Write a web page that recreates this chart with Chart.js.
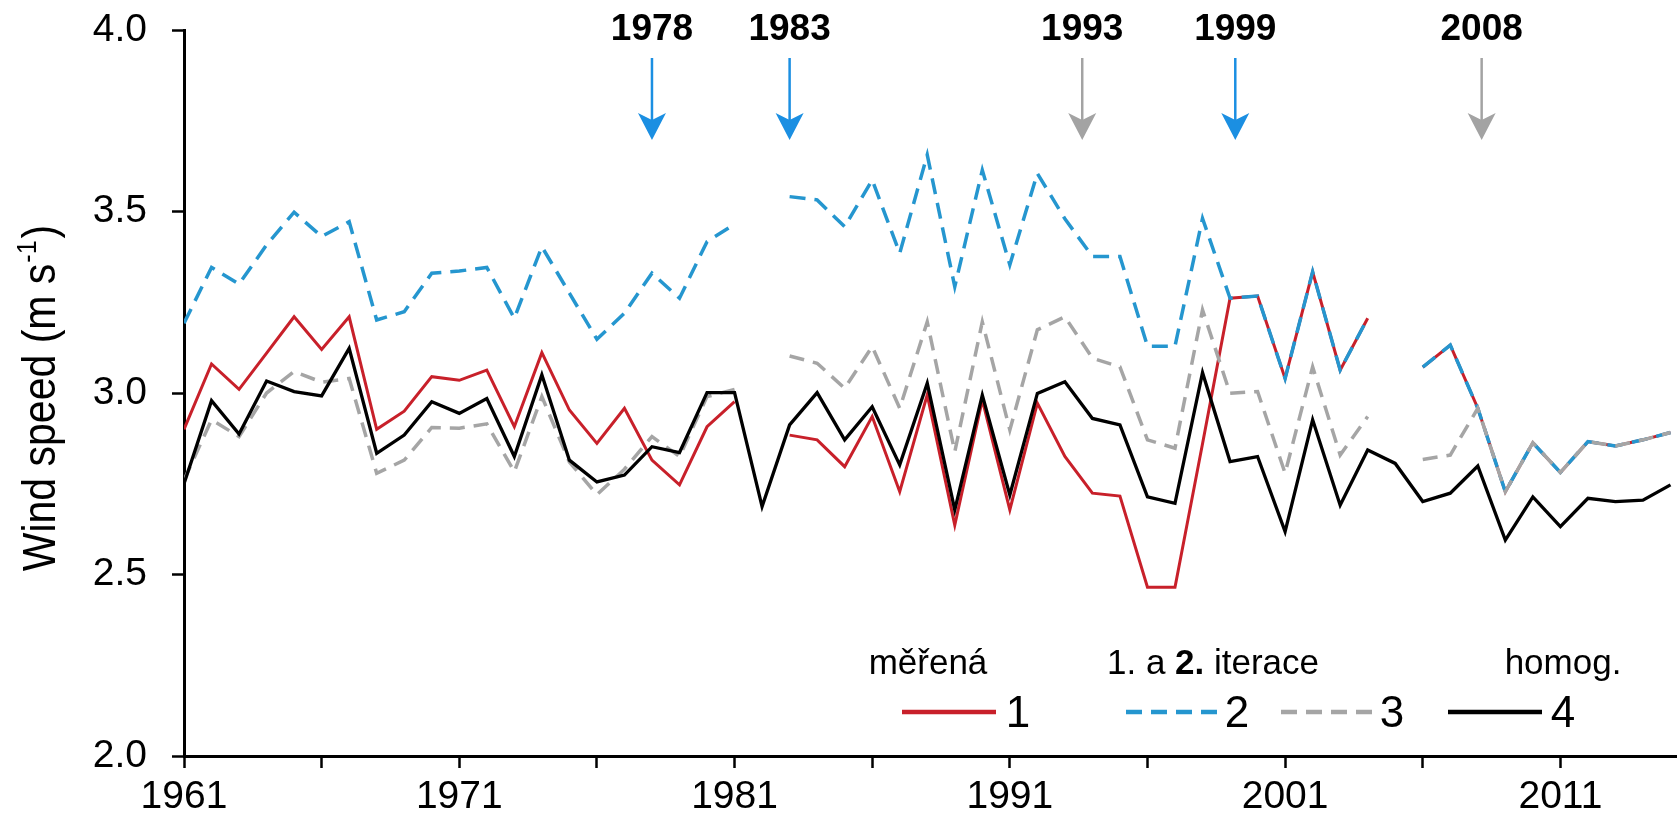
<!DOCTYPE html>
<html>
<head>
<meta charset="utf-8">
<script src="https://cdn.jsdelivr.net/npm/chart.js@4.4.1/dist/chart.umd.min.js"></script>
<style>
  html, body { margin: 0; padding: 0; background: #ffffff; overflow: hidden; }
  #wrap { width: 1679px; height: 829px; position: relative; }
</style>
</head>
<body>
<div id="wrap"><canvas id="c" width="1679" height="829"></canvas></div>
<script>
// Annual mean wind speed, 1961–2015
const years = [1961,1962,1963,1964,1965,1966,1967,1968,1969,1970,
               1971,1972,1973,1974,1975,1976,1977,1978,1979,1980,
               1981,1982,1983,1984,1985,1986,1987,1988,1989,1990,
               1991,1992,1993,1994,1995,1996,1997,1998,1999,2000,
               2001,2002,2003,2004,2005,2006,2007,2008,2009,2010,
               2011,2012,2013,2014,2015];

// 1 – measured series
const measured = [2.90,3.08,3.01,3.11,3.21,3.12,3.21,2.90,2.95,3.045,
                  3.035,3.063,2.907,3.111,2.953,2.861,2.958,2.815,2.747,2.907,
                  2.976,null,2.884,2.871,2.797,2.935,2.728,2.995,2.636,2.981,
                  2.678,2.972,2.825,2.724,2.716,2.465,2.465,2.86,3.261,3.267,
                  3.040,3.334,3.063,3.206,null,3.071,3.132,2.958,2.728,2.863,
                  2.781,2.866,2.854,2.871,2.891];

// 2 – first iteration
const iteration1 = [3.192,3.346,3.300,3.408,3.498,3.431,3.472,3.201,3.224,3.33,
                    3.336,3.346,3.206,3.403,3.275,3.148,3.22,3.33,3.261,3.417,
                    3.465,null,3.541,3.532,3.458,3.587,3.385,3.656,3.293,3.614,
                    3.353,3.605,3.48,3.376,3.376,3.129,3.129,3.481,3.261,3.267,
                    3.040,3.334,3.063,3.206,null,3.071,3.132,2.958,2.728,2.863,
                    2.781,2.866,2.854,2.871,2.891];

// 3 – second iteration
const iteration2 = [2.76,2.926,2.88,3.00,3.059,3.03,3.04,2.779,2.815,2.905,
                    2.903,2.915,2.783,2.99,2.81,2.72,2.79,2.88,2.825,2.99,
                    3.01,null,3.102,3.082,3.013,3.128,2.958,3.196,2.838,3.196,
                    2.898,3.174,3.210,3.096,3.072,2.871,2.848,3.229,2.999,3.004,
                    2.779,3.072,2.829,2.935,null,2.817,2.829,2.958,2.728,2.863,
                    2.781,2.866,2.854,2.871,2.891];

// 4 – homogenized series
const homogenized = [2.75,2.979,2.887,3.033,3.004,2.992,3.123,2.834,2.884,2.976,
                     2.944,2.985,2.825,3.050,2.815,2.755,2.774,2.852,2.836,3.001,
                     3.001,2.687,2.912,3.001,2.871,2.962,2.802,3.027,2.678,2.994,
                     2.719,2.999,3.031,2.930,2.912,2.714,2.696,3.056,2.811,2.825,
                     2.618,2.926,2.691,2.843,2.806,2.701,2.724,2.799,2.595,2.714,
                     2.632,2.710,2.701,2.705,2.747];

const xTickYears = [1961,1966,1971,1976,1981,1986,1991,1996,2001,2006,2011];
const xLabelYears = [1961,1971,1981,1991,2001,2011];
const yTickValues = [2.0,2.5,3.0,3.5,4.0];

// detected break points
const breakLabels = ['1978','1983','1993','1999','2008'];
const breakYears  = [1978,1983,1993.63,1999.19,2008.14];
const breakKinds  = ['blue','blue','gray','blue','gray'];

const FONT = '"Liberation Sans", Arial, Helvetica, sans-serif';
const RED = '#c8202a', BLUE = '#2596cf', GRAY = '#a5a5a5', BLACK = '#000000';
const ARROW = { blue: '#1b8fe2', gray: '#a3a3a3' };

const toPoints = arr => years.map((yr, i) => ({ x: yr, y: arr[i] }));

const overlay = {
  id: 'overlay',
  afterDraw(chart) {
    const ctx = chart.ctx;
    const xs = chart.scales.x;
    const ys = chart.scales.y;

    // y axis title with superscript
    ctx.save();
    ctx.translate(55, (ys.top + ys.bottom) / 2 + 5);
    ctx.scale(1.12, 1);
    ctx.rotate(-Math.PI / 2);
    ctx.fillStyle = '#000';
    ctx.textBaseline = 'alphabetic';
    const big = '41px ' + FONT, small = '25px ' + FONT;
    ctx.font = big;
    const a = 'Wind speed (m s', b = ')';
    const wa = ctx.measureText(a).width, wb = ctx.measureText(b).width;
    ctx.font = small;
    const sup = '-1';
    const ws = ctx.measureText(sup).width;
    let x0 = -(wa + ws + wb + 3) / 2;
    ctx.font = big; ctx.fillText(a, x0, 0); x0 += wa;
    ctx.font = small; ctx.fillText(sup, x0 + 1, -17); x0 += ws + 3;
    ctx.font = big; ctx.fillText(b, x0, 0);
    ctx.restore();

    // break-point arrows and labels
    ctx.save();
    breakLabels.forEach((lab, i) => {
      const x = xs.getPixelForValue(breakYears[i]);
      const col = ARROW[breakKinds[i]];
      ctx.fillStyle = '#000';
      ctx.font = 'bold 37px ' + FONT;
      ctx.textAlign = 'center';
      ctx.textBaseline = 'alphabetic';
      ctx.fillText(lab, x, 40);
      ctx.strokeStyle = col;
      ctx.fillStyle = col;
      ctx.lineWidth = 2.5;
      ctx.beginPath();
      ctx.moveTo(x, 58);
      ctx.lineTo(x, 122);
      ctx.stroke();
      ctx.beginPath();
      ctx.moveTo(x, 140);
      ctx.lineTo(x - 14, 113);
      ctx.lineTo(x, 120);
      ctx.lineTo(x + 14, 113);
      ctx.closePath();
      ctx.fill();
    });
    ctx.restore();

    // legend
    ctx.save();
    ctx.fillStyle = '#000';
    ctx.textBaseline = 'middle';
    ctx.textAlign = 'center';
    const hFont = '35px ' + FONT, hBold = 'bold 35px ' + FONT;
    ctx.font = hFont;
    ctx.fillText('měřená', 928, 664);
    ctx.fillText('homog.', 1563, 664);
    // mixed-weight heading
    const p1 = '1. a ', p2 = '2.', p3 = ' iterace';
    ctx.font = hFont; const w1 = ctx.measureText(p1).width, w3 = ctx.measureText(p3).width;
    ctx.font = hBold; const w2 = ctx.measureText(p2).width;
    let hx = 1213 - (w1 + w2 + w3) / 2;
    ctx.textAlign = 'left';
    ctx.font = hFont; ctx.fillText(p1, hx, 664); hx += w1;
    ctx.font = hBold; ctx.fillText(p2, hx, 664); hx += w2;
    ctx.font = hFont; ctx.fillText(p3, hx, 664);

    const items = [
      { x0: 902, x1: 996, col: RED, dash: [], lab: '1', lx: 1018 },
      { x0: 1126, x1: 1221, col: BLUE, dash: [16, 9], lab: '2', lx: 1237 },
      { x0: 1281, x1: 1374, col: GRAY, dash: [16, 9], lab: '3', lx: 1392 },
      { x0: 1448, x1: 1542, col: BLACK, dash: [], lab: '4', lx: 1563 }
    ];
    items.forEach(it => {
      ctx.strokeStyle = it.col;
      ctx.lineWidth = 4.5;
      ctx.setLineDash(it.dash);
      ctx.beginPath();
      ctx.moveTo(it.x0, 712);
      ctx.lineTo(it.x1, 712);
      ctx.stroke();
      ctx.setLineDash([]);
      ctx.fillStyle = '#000';
      ctx.font = '44px ' + FONT;
      ctx.textAlign = 'center';
      ctx.fillText(it.lab, it.lx, 715);
    });
    ctx.restore();
  }
};

const lineDefaults = { pointRadius: 0, tension: 0, spanGaps: false, fill: false,
                       borderJoinStyle: 'miter', borderCapStyle: 'butt' };

new Chart(document.getElementById('c'), {
  type: 'line',
  data: {
    datasets: [
      Object.assign({ label: '4', data: toPoints(homogenized), borderColor: BLACK, borderWidth: 3.3, order: 0 }, lineDefaults),
      Object.assign({ label: '3', data: toPoints(iteration2), borderColor: GRAY, borderWidth: 3.5, borderDash: [15, 9], order: 1 }, lineDefaults),
      Object.assign({ label: '2', data: toPoints(iteration1), borderColor: BLUE, borderWidth: 3.5, borderDash: [16, 9], order: 2 }, lineDefaults),
      Object.assign({ label: '1', data: toPoints(measured), borderColor: RED, borderWidth: 3, order: 3 }, lineDefaults)
    ]
  },
  options: {
    responsive: false,
    animation: false,
    devicePixelRatio: 1,
    layout: { padding: { top: 30, right: 3, bottom: 0, left: 0 } },
    plugins: { legend: { display: false }, tooltip: { enabled: false }, title: { display: false } },
    scales: {
      x: {
        type: 'linear',
        min: 1961,
        max: 2015.2,
        afterBuildTicks: s => { s.ticks = xTickYears.map(v => ({ value: v })); },
        afterFit: s => { s.height = 73; s.paddingLeft = 0; s.paddingRight = 0; },
        ticks: {
          autoSkip: false,
          maxRotation: 0,
          padding: 6,
          color: '#000',
          font: { family: FONT, size: 39 },
          callback: v => (xLabelYears.includes(v) ? String(v) : '')
        },
        grid: { display: true, drawOnChartArea: false, drawTicks: true, tickLength: 12,
                tickColor: '#000', tickWidth: 2.5 },
        border: { display: true, color: '#000', width: 3 }
      },
      y: {
        min: 2,
        max: 4,
        afterBuildTicks: s => { s.ticks = yTickValues.map(v => ({ value: v })); },
        afterFit: s => { s.width = 184; s.paddingTop = 0; s.paddingBottom = 0; },
        ticks: {
          padding: 25,
          color: '#000',
          font: { family: FONT, size: 39 },
          callback: v => Number(v).toFixed(1)
        },
        grid: { display: true, drawOnChartArea: false, drawTicks: true, tickLength: 12,
                tickColor: '#000', tickWidth: 2.5 },
        border: { display: true, color: '#000', width: 3 }
      }
    }
  },
  plugins: [overlay]
});
</script>
</body>
</html>
